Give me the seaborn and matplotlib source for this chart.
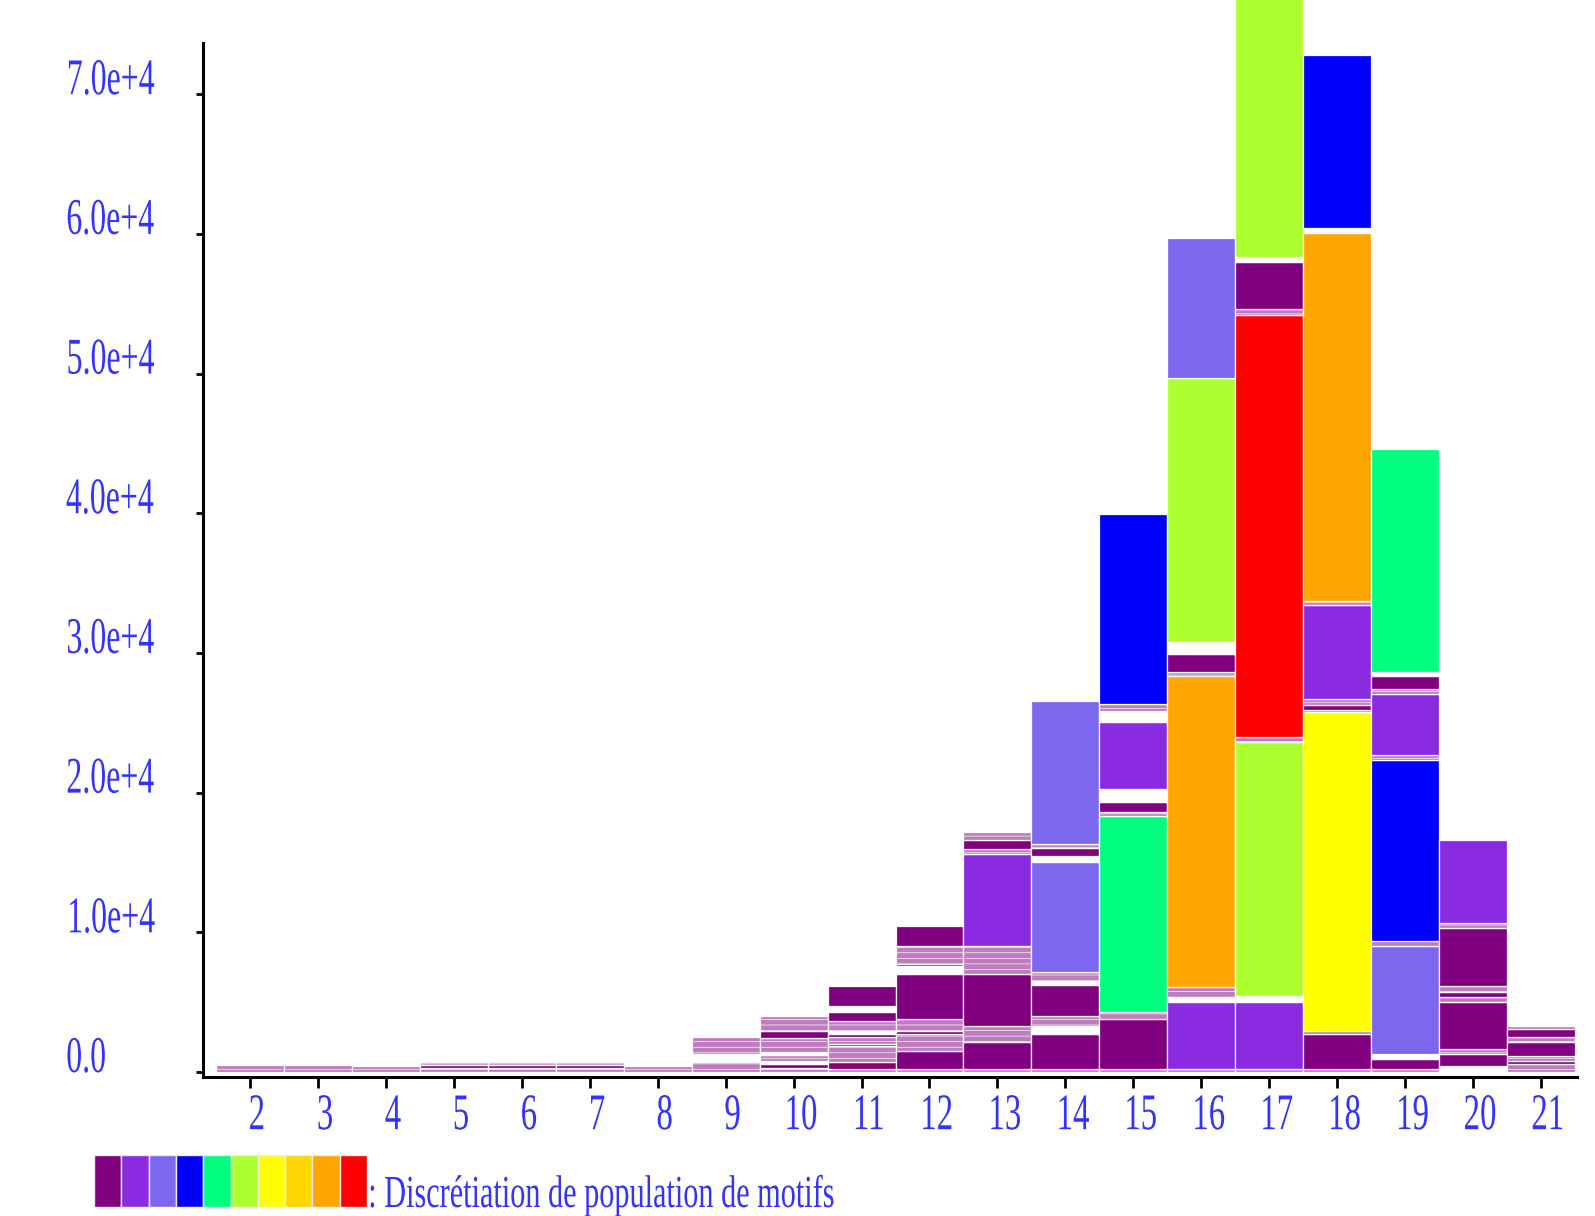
import matplotlib
matplotlib.use("Agg")
import matplotlib.pyplot as plt
import seaborn as sns
import pandas as pd
from matplotlib.patheffects import AbstractPathEffect
from matplotlib.transforms import Affine2D

# ---------------- data (segments bottom -> top, per pattern length) ----------------
lengths = list(range(2, 22))
bar_02 = [("L", 500)]
bar_03 = [("L", 500)]
bar_04 = [("L", 450)]
bar_05 = [("L", 290), ("D", 215), ("L", 215)]
bar_06 = [("L", 290), ("D", 215), ("L", 215)]
bar_07 = [("L", 290), ("D", 215), ("L", 215)]
bar_08 = [("L", 450)]
bar_09 = [("L", 700), ("W", 570), ("L", 1200)]
bar_10 = [("L", 290), ("D", 290), ("W", 215), ("L", 430), ("W", 215), ("L", 1000),
          ("D", 500), ("L", 1070)]
bar_11 = [("L", 215), ("D", 500), ("L", 1150), ("D", 145), ("L", 500), ("D", 215),
          ("W", 215), ("L", 715), ("D", 645), ("W", 430), ("D", 1430)]
bar_12 = [("L", 215), ("D", 1290), ("L", 1220), ("D", 215), ("L", 860), ("D", 3220),
          ("W", 570), ("D", 145), ("L", 1290), ("D", 1430)]
bar_13 = [("L", 215), ("D", 1930), ("L", 1150), ("D", 3720), ("L", 2000), ("P", 6590),
          ("L", 360), ("D", 645), ("L", 570)]
bar_14 = [("L", 215), ("D", 2500), ("W", 570), ("L", 715), ("D", 2220), ("W", 285),
          ("L", 645), ("S", 7880), ("W", 430), ("D", 570), ("L", 285), ("S", 10240)]
bar_15 = [("L", 215), ("D", 3580), ("L", 500), ("G", 14030), ("L", 285), ("D", 715),
          ("W", 930), ("P", 4800), ("W", 790), ("L", 500), ("B", 13600)]
bar_16 = [("L", 215), ("P", 4800), ("W", 360), ("L", 715), ("O", 22270), ("L", 285),
          ("D", 1290), ("W", 860), ("GY", 18900), ("S", 10020)]
bar_17 = [("L", 215), ("P", 4800), ("W", 430), ("GY", 18190), ("L", 360), ("R", 30220),
          ("L", 430), ("D", 3370), ("W", 360), ("GY", 20000)]
bar_18 = [("L", 215), ("D", 2500), ("L", 215), ("Y", 22840), ("L", 145), ("D", 360),
          ("L", 430), ("P", 6730), ("L", 285), ("O", 26350), ("W", 360), ("B", 12390)]
bar_19 = [("L", 215), ("D", 715), ("W", 360), ("S", 7730), ("L", 360), ("B", 12960),
          ("L", 360), ("P", 4370), ("L", 360), ("D", 930), ("W", 285), ("G", 15970)]
bar_20 = [("W", 430), ("D", 860), ("L", 360), ("D", 3370), ("L", 360), ("D", 360),
          ("L", 430), ("D", 4150), ("L", 360), ("P", 5940)]
bar_21 = [("L", 570), ("D", 215), ("L", 360), ("D", 1000), ("L", 360), ("D", 570),
          ("L", 215)]
bars = [bar_02, bar_03, bar_04, bar_05, bar_06, bar_07, bar_08, bar_09, bar_10, bar_11,
        bar_12, bar_13, bar_14, bar_15, bar_16, bar_17, bar_18, bar_19, bar_20, bar_21]

y_ticks = [0, 10000, 20000, 30000, 40000, 50000, 60000, 70000]
y_tick_labels = ["0.0", "1.0e+4", "2.0e+4", "3.0e+4", "4.0e+4", "5.0e+4", "6.0e+4", "7.0e+4"]
legend_codes = ["D", "P", "S", "B", "G", "GY", "Y", "Au", "O", "R"]
legend_label = ": Discrétiation de population de motifs"

# ---------------- styles ----------------
palette = {"D": "#800080", "P": "#8A2BE2", "S": "#7B68EE", "B": "#0000FF",
           "G": "#00FF7F", "GY": "#ADFF2F", "Y": "#FFFF00", "Au": "#FFD700",
           "O": "#FFA500", "R": "#FF0000", "L": "#bf7cbf", "W": "#ffffff"}
TEXT_BLUE = "#3333ff"

sns.set_theme(style="white")
plt.rcParams["font.family"] = ["Liberation Serif", "DejaVu Serif"]
plt.rcParams["hatch.color"] = "white"
plt.rcParams["hatch.linewidth"] = 0.45


class Squeeze(AbstractPathEffect):
    """Render text horizontally condensed (text stays a real Text artist)."""
    def __init__(self, sx=0.6, anchor="center", dx=0.0):
        super().__init__()
        self.sx = sx
        self.anchor = anchor
        self.dx = dx

    def draw_path(self, renderer, gc, tpath, affine, rgbFace=None):
        ext = tpath.get_extents()
        if self.anchor == "right":
            a = ext.x1
        elif self.anchor == "left":
            a = ext.x0
        else:
            a = 0.5 * (ext.x0 + ext.x1)
        t = (Affine2D().translate(-a, 0).scale(self.sx, 1.0).translate(a, 0)
             + affine + Affine2D().translate(self.dx, 0))
        renderer.draw_path(gc, tpath, t, rgbFace)


rows = []
for x, segs in zip(lengths, bars):
    bottom = 0
    for i, (code, val) in enumerate(segs):
        rows.append({"length": x, "order": i, "code": code, "value": val, "bottom": bottom})
        bottom += val
df = pd.DataFrame(rows)

W, H = 1595, 1216
fig = plt.figure(figsize=(W / 100, H / 100), dpi=100)
ax = fig.add_axes([203 / W, 1 - 1077 / H, (1577 - 203) / W, 1077 / H])

for _, r in df.iterrows():
    hatch = "---" if r["code"] == "L" else None
    ax.bar(r["length"], r["value"], bottom=r["bottom"], width=1.0,
           color=palette[r["code"]], edgecolor="white", linewidth=0.9,
           hatch=hatch, zorder=2)

ax.set_xlim(1.308, 21.53)
ax.set_ylim(-358, 76740)
sns.despine(ax=ax, top=True, right=True)
ax.spines["left"].set_bounds(-358, 73680)
for s in ("left", "bottom"):
    ax.spines[s].set_color("black")
    ax.spines[s].set_linewidth(2.2)

ax.set_xticks(lengths)
ax.set_xticklabels([str(v) for v in lengths])
ax.set_yticks(y_ticks)
ax.set_yticklabels(y_tick_labels)
ax.tick_params(axis="x", length=8, width=2, color="black", pad=4, labelsize=37,
               labelcolor=TEXT_BLUE, bottom=True, direction="out")
ax.tick_params(axis="y", length=5, width=2, color="black", pad=94, labelsize=37,
               labelcolor=TEXT_BLUE, left=True, direction="out")
for lab in ax.get_xticklabels():
    lab.set_path_effects([Squeeze(0.64, "center", dx=7)])
for t in ax.yaxis.get_major_ticks():
    t.label1.set_verticalalignment("baseline")
    t.label1.set_horizontalalignment("left")
    t.label1.set_path_effects([Squeeze(0.62, "left")])
ax.grid(False)
ax.set_xlabel("")
ax.set_ylabel("")

# legend strip
lax = fig.add_axes([94 / W, 1 - 1207 / H, 273 / W, 52 / H])
lax.bar(range(len(legend_codes)), [1] * len(legend_codes), width=1.0,
        color=[palette[c] for c in legend_codes], edgecolor="#f4e8f4", linewidth=1.0)
lax.set_xlim(-0.5, len(legend_codes) - 0.5)
lax.set_ylim(0, 1)
lax.axis("off")
fig.text(367 / W, 1 - 1207 / H, legend_label, fontsize=33, color=TEXT_BLUE,
         ha="left", va="baseline", path_effects=[Squeeze(0.66, "left")])

fig.savefig("out.png", dpi=100)
